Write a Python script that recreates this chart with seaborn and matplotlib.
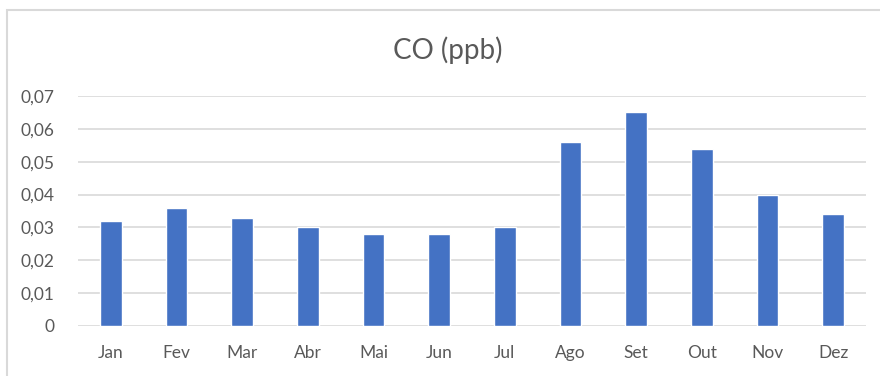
import matplotlib
matplotlib.use("Agg")
import matplotlib.pyplot as plt
from matplotlib.patches import Rectangle
from matplotlib.ticker import FuncFormatter
import seaborn as sns
import pandas as pd

months = ["Jan", "Fev", "Mar", "Abr", "Mai", "Jun", "Jul", "Ago", "Set", "Out", "Nov", "Dez"]
co_ppb = [0.032, 0.036, 0.033, 0.030, 0.028, 0.028, 0.030, 0.056, 0.065, 0.054, 0.040, 0.034]
y_ticks = [0, 0.01, 0.02, 0.03, 0.04, 0.05, 0.06, 0.07]

df = pd.DataFrame({"mes": months, "co": co_ppb})

sns.set_theme(style="white")
plt.rcParams["font.family"] = ["Lato", "DejaVu Sans"]

W, H = 880, 376
fig = plt.figure(figsize=(W / 100, H / 100), dpi=100)
ax = fig.add_axes([78 / W, 1 - 326 / H, (866 - 78) / W, (326 - 96) / H])

sns.barplot(data=df, x="mes", y="co", color="#4472C4", saturation=1,
            width=0.33, ax=ax, zorder=3)

ax.set_ylim(0, 0.07)
ax.set_xlim(-0.5, len(months) - 0.5)
ax.set_yticks(y_ticks)

def fmt(v, _):
    if abs(v) < 1e-12:
        return "0"
    return f"{v:.2f}".replace(".", ",")

ax.yaxis.set_major_formatter(FuncFormatter(fmt))
ax.grid(axis="y", color="#d9d9d9", linewidth=1.2, zorder=0)
ax.set_axisbelow(True)
for s in ax.spines.values():
    s.set_visible(False)
ax.set_xlabel("")
ax.set_ylabel("")
ax.tick_params(axis="both", length=0, labelsize=12.5, colors="#595959")
ax.tick_params(axis="y", pad=17)
ax.tick_params(axis="x", pad=14)

fig.text(448 / W, 1 - 50 / H, "CO (ppb)", ha="center", va="center",
         fontsize=20, color="#595959")

fig.patches.append(Rectangle((7 / W, -0.05), 1.1, 1 - 10 / H + 0.05,
                             transform=fig.transFigure, fill=False,
                             edgecolor="#d9d9d9", linewidth=1.5))

fig.savefig("out.png", dpi=100, facecolor="white")
